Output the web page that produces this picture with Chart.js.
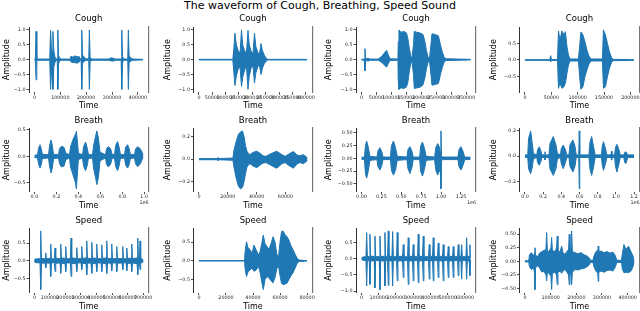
<!DOCTYPE html>
<html><head><meta charset="utf-8">
<script src="https://cdn.jsdelivr.net/npm/chart.js@4.4.1/dist/chart.umd.min.js"></script>
<style>
html,body{margin:0;padding:0;background:#fff;width:640px;height:311px;overflow:hidden;position:relative}
canvas{position:absolute}
#title{position:absolute;left:0;top:-1px;width:640px;text-align:center;font-family:'DejaVu Sans',sans-serif;font-size:11px;line-height:13px;color:#000;white-space:nowrap}
</style></head><body>
<div id="title">The waveform of Cough, Breathing, Speed Sound</div>
<script>
// ---------------- data ----------------
const rowTitles = ['Cough', 'Breath', 'Speed'];

const cough1Time = [0,3500,6200,9300,59200,62300,66100,69200,71500,75000,79700,85500,88200,90500,93200,97100,102900,138800,141500,149300,157000,164700,172500,177500,180600,182900,186000,191800,197600,210000,212300,215400,222700,288500,294300,303900,311700,335300,337600,340700,346500,360800,363100,366200,373500,381300,420000];
const cough1Max = [0.01,0.01,0.95,0.02,0.02,1.0,0.4,0.25,0.95,0.3,0.08,0.02,0.02,1.0,0.15,0.05,0.02,0.02,0.12,0.08,0.13,0.09,0.11,0.03,0.02,1.0,0.15,0.1,0.03,0.02,1.0,0.06,0.02,0.02,0.06,0.05,0.02,0.02,1.0,0.1,0.02,0.02,1.0,0.12,0.05,0.02,0.01];
const cough1Min = [-0.01,-0.01,-0.68,-0.02,-0.02,-1.0,-0.45,-0.3,-1.0,-0.25,-0.08,-0.02,-0.02,-1.0,-0.15,-0.04,-0.02,-0.02,-0.08,-0.1,-0.1,-0.12,-0.08,-0.03,-0.02,-1.0,-0.12,-0.06,-0.03,-0.02,-1.0,-0.05,-0.02,-0.02,-0.04,-0.05,-0.02,-0.02,-1.0,-0.08,-0.02,-0.02,-1.0,-0.1,-0.04,-0.02,-0.01];

const cough2Time = [0,127000,131000,135100,140000,147000,154000,159500,164000,171000,178000,183800,188500,195000,202500,208100,213000,220000,226500,232400,238000,245000,252000,258000,405000];
const cough2Max = [0.01,0.01,0.4,0.89,0.5,0.3,0.22,1.0,0.5,0.3,0.22,0.98,0.5,0.3,0.2,0.89,0.45,0.25,0.17,0.54,0.3,0.15,0.05,0.01,0.01];
const cough2Min = [-0.01,-0.01,-0.45,-0.87,-0.55,-0.32,-0.25,-0.9,-0.6,-0.35,-0.22,-1.0,-0.55,-0.3,-0.2,-0.79,-0.45,-0.25,-0.17,-0.5,-0.28,-0.13,-0.05,-0.01,-0.01];

const cough3Time = [0,9400,11700,14000,17400,21700,28400,55200,56200,68600,78600,84300,90300,95400,122100,123100,125500,132200,142200,150600,155600,160600,165600,169000,174000,176700,185700,195700,205800,212500,217500,222500,227500,232500,235900,245900,257600,264300,271000,276000,282700,365000];
const cough3Max = [0.01,0.02,0.37,0.03,0.03,0.05,0.02,0.02,0.02,0.12,0.25,0.31,0.15,0.03,0.02,0.6,1.0,0.92,0.95,0.9,0.7,0.35,0.12,0.04,0.5,0.95,0.92,0.9,0.85,0.6,0.3,0.1,0.04,0.5,0.87,0.85,0.8,0.5,0.25,0.1,0.03,0.01];
const cough3Min = [-0.01,-0.02,-0.38,-0.03,-0.03,-0.05,-0.02,-0.02,-0.02,-0.1,-0.2,-0.25,-0.12,-0.03,-0.02,-0.7,-1.0,-0.95,-0.97,-0.92,-0.75,-0.35,-0.12,-0.04,-0.5,-0.97,-0.95,-0.93,-0.85,-0.6,-0.3,-0.1,-0.04,-0.5,-0.86,-0.84,-0.8,-0.5,-0.25,-0.1,-0.03,-0.01];

const cough4Time = [0,47000,48800,50500,61700,63600,66400,70200,74000,76800,79700,82500,85400,101500,104300,106200,110000,113800,117600,121400,125200,147000,148900,152700,156500,160300,164100,166900,207000];
const cough4Max = [0.01,0.01,0.13,0.01,0.02,0.87,0.6,0.87,0.75,0.85,0.4,0.15,0.03,0.03,0.5,0.84,0.75,0.55,0.3,0.12,0.03,0.03,0.9,0.75,0.5,0.25,0.08,0.02,0.01];
const cough4Min = [-0.01,-0.01,-0.06,-0.01,-0.02,-0.85,-0.7,-0.85,-0.8,-0.7,-0.4,-0.15,-0.03,-0.03,-0.6,-0.88,-0.8,-0.5,-0.3,-0.12,-0.03,-0.03,-0.85,-0.8,-0.5,-0.25,-0.08,-0.02,-0.01];

const breath1Time = [0,28300,37400,51000,62900,72000,128500,137600,151300,163200,174100,219700,228800,247000,269800,286200,320000,329100,351900,374700,382000,391100,400200,438500,447600,465800,482200,491400,529600,538800,557000,568800,582500,598000,648200,657300,673700,693700,707400,730200,739300,757500,771200,783100,821400,830500,848700,862400,874300,912500,921600,939900,962700,980900,990000];
const breath1Max = [0.02,0.03,0.15,0.22,0.14,0.04,0.03,0.2,0.31,0.2,0.04,0.03,0.15,0.19,0.17,0.06,0.03,0.18,0.32,0.42,0.47,0.3,0.06,0.03,0.18,0.27,0.15,0.04,0.03,0.2,0.38,0.48,0.35,0.08,0.03,0.15,0.18,0.15,0.04,0.03,0.2,0.28,0.18,0.04,0.03,0.17,0.22,0.15,0.04,0.03,0.14,0.18,0.15,0.08,0.02];
const breath1Min = [-0.02,-0.03,-0.14,-0.22,-0.15,-0.04,-0.03,-0.18,-0.31,-0.22,-0.04,-0.03,-0.14,-0.2,-0.18,-0.06,-0.03,-0.2,-0.35,-0.5,-0.61,-0.35,-0.06,-0.03,-0.18,-0.27,-0.16,-0.04,-0.03,-0.22,-0.4,-0.53,-0.4,-0.08,-0.03,-0.15,-0.2,-0.15,-0.04,-0.03,-0.18,-0.27,-0.18,-0.04,-0.03,-0.16,-0.22,-0.16,-0.04,-0.03,-0.14,-0.19,-0.15,-0.06,-0.02];

const breath2Time = [0,12500,13200,13900,23600,24300,25700,27400,28800,30200,31300,32300,33300,34400,35400,37500,40100,42700,44400,46500,49300,53900,57600,59700,61700,65400,68300,70100,72300,74600,75000];
const breath2Max = [0.005,0.005,0.015,0.005,0.01,0.08,0.15,0.22,0.24,0.25,0.2,0.12,0.07,0.05,0.04,0.06,0.07,0.05,0.03,0.025,0.045,0.07,0.04,0.025,0.04,0.068,0.035,0.03,0.04,0.02,0.005];
const breath2Min = [-0.005,-0.005,-0.015,-0.005,-0.01,-0.07,-0.16,-0.24,-0.262,-0.25,-0.2,-0.13,-0.07,-0.05,-0.04,-0.06,-0.075,-0.05,-0.035,-0.03,-0.05,-0.08,-0.04,-0.03,-0.05,-0.08,-0.04,-0.03,-0.04,-0.02,-0.005];

const breath3Time = [0,37700,50200,65300,85400,106700,194600,207200,232300,257400,270000,364200,376700,401800,426900,449500,571300,583900,609000,634100,650500,730800,743400,766000,791100,812400,919200,931700,956900,979400,992000,998300,1005800,1017100,1211800,1224300,1249400,1274500,1297100,1370000];
const breath3Max = [0.02,0.025,0.25,0.34,0.22,0.04,0.025,0.15,0.21,0.12,0.025,0.025,0.25,0.34,0.22,0.04,0.025,0.17,0.23,0.14,0.025,0.025,0.24,0.32,0.2,0.04,0.025,0.2,0.29,0.22,0.1,0.54,0.05,0.025,0.025,0.17,0.23,0.14,0.025,0.02];
const breath3Min = [-0.02,-0.025,-0.3,-0.39,-0.25,-0.04,-0.025,-0.16,-0.23,-0.13,-0.025,-0.025,-0.24,-0.33,-0.24,-0.04,-0.025,-0.2,-0.3,-0.18,-0.025,-0.025,-0.25,-0.35,-0.22,-0.04,-0.025,-0.22,-0.33,-0.25,-0.1,-0.6,-0.05,-0.025,-0.025,-0.16,-0.23,-0.14,-0.025,-0.02];

const breath4Time = [0,30800,39600,62700,80300,93500,129800,138600,157300,176000,187000,214500,220000,225500,264000,275000,311300,341000,357500,390500,399300,421300,445500,459800,484000,495000,528000,550000,564300,591800,597300,602800,704000,715000,733700,753500,772200,841500,850300,863500,885500,902000,946000,951500,957000,986700,995500,1012000,1034000,1048300,1086800,1097800,1111000,1130800,1200000];
const breath4Max = [0.01,0.01,0.14,0.2,0.1,0.02,0.01,0.05,0.075,0.04,0.01,0.01,0.035,0.01,0.01,0.1,0.155,0.09,0.02,0.01,0.06,0.088,0.05,0.01,0.01,0.09,0.128,0.08,0.01,0.01,0.2,0.01,0.01,0.11,0.155,0.08,0.01,0.01,0.08,0.115,0.06,0.01,0.01,0.04,0.01,0.01,0.07,0.093,0.05,0.01,0.01,0.03,0.035,0.01,0.01];
const breath4Min = [-0.01,-0.01,-0.1,-0.139,-0.09,-0.02,-0.01,-0.05,-0.072,-0.04,-0.01,-0.01,-0.03,-0.01,-0.01,-0.1,-0.152,-0.1,-0.02,-0.01,-0.06,-0.099,-0.05,-0.01,-0.01,-0.08,-0.125,-0.08,-0.01,-0.01,-0.258,-0.01,-0.01,-0.1,-0.152,-0.09,-0.01,-0.01,-0.07,-0.112,-0.06,-0.01,-0.01,-0.03,-0.01,-0.01,-0.08,-0.125,-0.06,-0.01,-0.01,-0.05,-0.058,-0.01,-0.01];

const speed1Time = [0,3900,36100,40600,45100,68300,72800,77400,100600,105100,109600,128300,132800,137300,165000,169500,174000,197200,201800,206300,231400,235900,240400,268200,272700,277200,300400,304900,309400,332600,337100,341600,364800,369400,373900,397100,401600,406100,429300,433800,438300,461500,466000,470600,493800,498300,502800,526000,530500,535000,564700,569200,573700,590500,595000,599500,622700,627200,631700,661400,665900,670400,676900,680700,684600,696800,700000];
const speed1Max = [0.01,0.05,0.06,0.84,0.07,0.06,0.22,0.06,0.07,0.47,0.06,0.05,0.36,0.07,0.06,0.47,0.08,0.07,0.4,0.06,0.06,0.64,0.08,0.07,0.37,0.06,0.06,0.4,0.07,0.08,0.56,0.07,0.06,0.52,0.08,0.07,0.47,0.06,0.06,0.45,0.07,0.08,0.56,0.06,0.07,0.47,0.06,0.06,0.4,0.07,0.06,0.4,0.05,0.06,0.36,0.07,0.07,0.47,0.06,0.08,0.64,0.07,0.07,0.56,0.06,0.05,0.01];
const speed1Min = [-0.01,-0.05,-0.06,-0.81,-0.07,-0.06,-0.2,-0.06,-0.07,-0.44,-0.06,-0.05,-0.3,-0.07,-0.06,-0.35,-0.08,-0.07,-0.3,-0.06,-0.06,-0.44,-0.08,-0.07,-0.3,-0.06,-0.06,-0.25,-0.07,-0.08,-0.39,-0.07,-0.06,-0.35,-0.08,-0.07,-0.3,-0.06,-0.06,-0.3,-0.07,-0.08,-0.35,-0.06,-0.07,-0.28,-0.06,-0.06,-0.3,-0.07,-0.06,-0.25,-0.05,-0.06,-0.28,-0.07,-0.07,-0.3,-0.06,-0.08,-0.39,-0.07,-0.07,-0.25,-0.06,-0.05,-0.01];

const speed2Time = [0,33700,34300,35200,36300,37800,39300,40700,42200,44100,45200,46700,47600,48900,50400,51800,53700,54800,56300,57700,58900,60000,61100,62200,63700,65100,66600,68100,69600,71100,72500,74000,80000];
const speed2Max = [0.005,0.005,0.3,0.51,0.35,0.3,0.2,0.42,0.3,0.15,0.25,0.5,0.69,0.45,0.38,0.3,0.5,0.645,0.5,0.16,0.12,0.5,0.78,0.8,0.7,0.65,0.55,0.4,0.3,0.18,0.08,0.02,0.005];
const speed2Min = [-0.005,-0.005,-0.25,-0.42,-0.3,-0.24,-0.2,-0.28,-0.25,-0.15,-0.3,-0.6,-0.77,-0.5,-0.42,-0.46,-0.55,-0.59,-0.45,-0.2,-0.15,-0.4,-0.6,-0.64,-0.62,-0.6,-0.5,-0.4,-0.32,-0.2,-0.08,-0.02,-0.005];

const speed3Time = [0,8700,26100,30200,34200,45300,49300,53400,74300,78300,82400,103300,107300,111400,132300,136300,140400,151400,155500,159600,177000,181000,185100,203700,207700,211800,238500,242500,246600,267500,271500,275600,296500,300500,304600,325500,329600,333600,354500,358600,362600,389300,393400,397400,412500,416600,420600,441500,445600,449600,470500,474600,478700,499600,503600,507700,528600,532600,536700,557600,561600,565700,577300,581400,585400,606300,610300,614400,625400,629500,632300,633000];
const speed3Max = [0.02,0.05,0.06,0.8,0.07,0.06,0.75,0.07,0.07,0.69,0.06,0.06,0.69,0.07,0.07,0.8,0.06,0.06,0.85,0.07,0.07,0.83,0.06,0.06,0.8,0.07,0.07,0.43,0.06,0.06,0.64,0.07,0.07,0.43,0.06,0.06,0.75,0.07,0.07,0.69,0.06,0.06,0.43,0.07,0.07,0.64,0.06,0.06,0.48,0.07,0.07,0.43,0.06,0.06,0.37,0.07,0.07,0.37,0.06,0.06,0.43,0.07,0.07,0.43,0.06,0.06,0.64,0.07,0.07,0.43,0.03,0.02];
const speed3Min = [-0.02,-0.05,-0.06,-0.84,-0.07,-0.06,-0.79,-0.07,-0.07,-0.9,-0.06,-0.06,-0.95,-0.07,-0.07,-0.84,-0.06,-0.06,-0.82,-0.07,-0.07,-0.84,-0.06,-0.06,-0.68,-0.07,-0.07,-0.58,-0.06,-0.06,-0.79,-0.07,-0.07,-0.68,-0.06,-0.06,-0.74,-0.07,-0.07,-0.68,-0.06,-0.06,-0.63,-0.07,-0.07,-0.68,-0.06,-0.06,-0.58,-0.07,-0.07,-0.68,-0.06,-0.06,-0.58,-0.07,-0.07,-0.58,-0.06,-0.06,-0.52,-0.07,-0.07,-0.63,-0.06,-0.06,-0.63,-0.07,-0.07,-0.52,-0.03,-0.02];

const speed4Time = [0,14800,17500,25300,33100,37000,39000,41300,48700,56500,66200,74000,81800,84500,87300,93500,101300,104000,106800,116900,123100,125800,128600,136400,143000,148000,155800,163600,169800,172600,175300,179200,181900,184700,194800,206500,218200,229900,241600,251300,255200,264900,268800,276600,283600,285600,287500,296100,307800,319500,331200,342800,352600,357600,375900,379800,385700,393500,403200,413000,420800,425000];
const speed4Max = [0.01,0.01,0.12,0.16,0.1,0.15,0.25,0.12,0.08,0.15,0.18,0.2,0.22,0.53,0.2,0.18,0.25,0.44,0.2,0.18,0.25,0.465,0.2,0.17,0.28,0.16,0.13,0.18,0.22,0.5,0.2,0.25,0.56,0.18,0.16,0.14,0.16,0.12,0.1,0.06,0.02,0.02,0.1,0.18,0.2,0.28,0.18,0.19,0.16,0.18,0.15,0.17,0.1,0.02,0.02,0.15,0.31,0.22,0.28,0.18,0.1,0.01];
const speed4Min = [-0.01,-0.01,-0.1,-0.15,-0.12,-0.2,-0.52,-0.12,-0.08,-0.12,-0.2,-0.18,-0.25,-0.36,-0.2,-0.22,-0.28,-0.52,-0.22,-0.2,-0.25,-0.43,-0.2,-0.18,-0.22,-0.18,-0.15,-0.2,-0.25,-0.43,-0.22,-0.25,-0.43,-0.2,-0.15,-0.16,-0.14,-0.13,-0.1,-0.06,-0.02,-0.02,-0.1,-0.18,-0.22,-0.37,-0.2,-0.18,-0.2,-0.17,-0.16,-0.18,-0.1,-0.02,-0.02,-0.15,-0.21,-0.2,-0.21,-0.18,-0.1,-0.01];

// tick values and labels
const cough1XTicks = [0,100000,200000,300000,400000];
const cough1XLabels = ['0','100000','200000','300000','400000'];
const cough2XTicks = [0,50000,100000,150000,200000,250000,300000,350000,400000];
const cough2XLabels = ['0','50000','100000','150000','200000','250000','300000','350000','400000'];
const cough3XTicks = [0,50000,100000,150000,200000,250000,300000,350000];
const cough3XLabels = ['0','50000','100000','150000','200000','250000','300000','350000'];
const cough4XTicks = [0,50000,100000,150000,200000];
const cough4XLabels = ['0','50000','100000','150000','200000'];
const breath1XTicks = [0,200000,400000,600000,800000,1000000];
const breath1XLabels = ['0.0','0.2','0.4','0.6','0.8','1.0'];
const breath2XTicks = [0,20000,40000,60000];
const breath2XLabels = ['0','20000','40000','60000'];
const breath3XTicks = [0,250000,500000,750000,1000000,1250000];
const breath3XLabels = ['0.00','0.25','0.50','0.75','1.00','1.25'];
const breath4XTicks = [0,200000,400000,600000,800000,1000000,1200000];
const breath4XLabels = ['0.0','0.2','0.4','0.6','0.8','1.0','1.2'];
const speed1XTicks = [0,100000,200000,300000,400000,500000,600000,700000];
const speed1XLabels = ['0','100000','200000','300000','400000','500000','600000','700000'];
const speed2XTicks = [0,20000,40000,60000,80000];
const speed2XLabels = ['0','20000','40000','60000','80000'];
const speed3XTicks = [0,100000,200000,300000,400000,500000,600000];
const speed3XLabels = ['0','100000','200000','300000','400000','500000','600000'];
const speed4XTicks = [0,100000,200000,300000,400000];
const speed4XLabels = ['0','100000','200000','300000','400000'];

const yTicks10 = [-1,-0.5,0,0.5,1];
const yLabels10 = ['\u22121.0','\u22120.5','0.0','0.5','1.0'];
const yTicks05 = [-0.5,0,0.5];
const yLabels05 = ['\u22120.5','0.0','0.5'];
const yTicks02 = [-0.2,0,0.2];
const yLabels02 = ['\u22120.2','0.0','0.2'];
const yTicks025 = [-0.5,-0.25,0,0.25,0.5];
const yLabels025 = ['\u22120.50','\u22120.25','0.00','0.25','0.50'];
const yTicksSpeed3 = [-1,-0.5,0,0.5];
const yLabelsSpeed3 = ['\u22121.0','\u22120.5','0.0','0.5'];

const xAxisTitle = 'Time';
const yAxisTitle = 'Amplitude';
const offsetLabel = '1e6';

// ---------------- layout / style ----------------
const C0 = '#1f77b4';
const colLeft = [29, 193.5, 356, 519.5];
const colRight = [148.5, 312.5, 476, 639.5];
const ampX = [7, 167.5, 329, 494];
const rowTop = [27, 128, 228];
const rowBottom = [92.3, 191.7, 292.5];
const titleMidY = [18.7, 121, 221.2];
const TITLE_SIZE = 8.5, AXIS_SIZE = 8, TICK_SIZE = 4.8;

const panels = [
  {row:0,col:0,t:cough1Time,hi:cough1Max,lo:cough1Min,xt:cough1XTicks,xl:cough1XLabels,yt:yTicks10,yl:yLabels10},
  {row:0,col:1,t:cough2Time,hi:cough2Max,lo:cough2Min,xt:cough2XTicks,xl:cough2XLabels,yt:yTicks10,yl:yLabels10},
  {row:0,col:2,t:cough3Time,hi:cough3Max,lo:cough3Min,xt:cough3XTicks,xl:cough3XLabels,yt:yTicks10,yl:yLabels10},
  {row:0,col:3,t:cough4Time,hi:cough4Max,lo:cough4Min,xt:cough4XTicks,xl:cough4XLabels,yt:yTicks05,yl:yLabels05},
  {row:1,col:0,t:breath1Time,hi:breath1Max,lo:breath1Min,xt:breath1XTicks,xl:breath1XLabels,yt:yTicks05,yl:yLabels05,off:offsetLabel},
  {row:1,col:1,t:breath2Time,hi:breath2Max,lo:breath2Min,xt:breath2XTicks,xl:breath2XLabels,yt:yTicks02,yl:yLabels02},
  {row:1,col:2,t:breath3Time,hi:breath3Max,lo:breath3Min,xt:breath3XTicks,xl:breath3XLabels,yt:yTicks025,yl:yLabels025,off:offsetLabel},
  {row:1,col:3,t:breath4Time,hi:breath4Max,lo:breath4Min,xt:breath4XTicks,xl:breath4XLabels,yt:yTicks02,yl:yLabels02,off:offsetLabel},
  {row:2,col:0,t:speed1Time,hi:speed1Max,lo:speed1Min,xt:speed1XTicks,xl:speed1XLabels,yt:yTicks05,yl:yLabels05},
  {row:2,col:1,t:speed2Time,hi:speed2Max,lo:speed2Min,xt:speed2XTicks,xl:speed2XLabels,yt:yTicks05,yl:yLabels05},
  {row:2,col:2,t:speed3Time,hi:speed3Max,lo:speed3Min,xt:speed3XTicks,xl:speed3XLabels,yt:yTicksSpeed3,yl:yLabelsSpeed3},
  {row:2,col:3,t:speed4Time,hi:speed4Max,lo:speed4Min,xt:speed4XTicks,xl:speed4XLabels,yt:yTicks025,yl:yLabels025}
];

Chart.defaults.font.family = "'DejaVu Sans', sans-serif";
Chart.defaults.color = '#000';

function buildPanel(p) {
  const r = p.row, c = p.col;
  const L = colLeft[c], R = colRight[c], T = rowTop[r], B = rowBottom[r];
  const lhT = TITLE_SIZE * 1.2, lhA = AXIS_SIZE * 1.2;
  const cx = Math.floor(ampX[c] - lhA / 2 - 1);
  const cy = Math.floor(titleMidY[r] - lhT / 2 - 1);
  const yW = L - cx;
  const ampPad = ampX[c] - cx - lhA / 2;
  const tPadTop = titleMidY[r] - cy - lhT / 2;
  const tPadBottom = T - titleMidY[r] - lhT / 2;
  const xH = 20;
  const W = Math.ceil(R - cx + 14);
  const H = Math.ceil(B + xH - cy + 1);
  const padRight = W - (R - cx);
  const padBottom = H - (B + xH - cy);

  const cv = document.createElement('canvas');
  cv.width = W; cv.height = H;
  cv.style.left = cx + 'px'; cv.style.top = cy + 'px';
  cv.style.width = W + 'px'; cv.style.height = H + 'px';
  document.body.appendChild(cv);

  const tMin = p.t[0], tMax = p.t[p.t.length - 1];
  const xm = 0.05 * (tMax - tMin);
  const yMax = Math.max(...p.hi), yMin = Math.min(...p.lo);
  const ym = 0.05 * (yMax - yMin);

  const tickGrid = {display: true, drawOnChartArea: false, drawTicks: true, tickLength: 2.5, tickColor: '#222', tickWidth: 0.8};

  const offsetPlugin = {
    id: 'offsetText',
    afterDraw(chart) {
      if (!p.off) return;
      const {ctx, chartArea} = chart;
      ctx.save();
      ctx.font = TICK_SIZE + "px 'DejaVu Sans'";
      ctx.fillStyle = '#222';
      ctx.textAlign = 'right';
      ctx.textBaseline = 'middle';
      ctx.fillText(p.off, chartArea.right, chartArea.bottom + 11);
      ctx.restore();
    }
  };

  new Chart(cv, {
    type: 'line',
    data: {
      datasets: [
        {data: p.t.map((x, i) => ({x: x, y: p.hi[i]})), borderColor: C0, backgroundColor: C0, borderWidth: 1, pointRadius: 0, fill: '+1', tension: 0},
        {data: p.t.map((x, i) => ({x: x, y: p.lo[i]})), borderColor: C0, backgroundColor: C0, borderWidth: 1, pointRadius: 0, fill: false, tension: 0}
      ]
    },
    options: {
      responsive: false, animation: false, devicePixelRatio: 1, events: [],
      layout: {padding: {left: 0, top: 0, right: padRight, bottom: padBottom}},
      plugins: {
        legend: {display: false}, tooltip: {enabled: false},
        title: {display: true, text: rowTitles[r], fullSize: false, color: '#000',
          font: {size: TITLE_SIZE, weight: 'normal'}, padding: {top: tPadTop, bottom: tPadBottom}}
      },
      scales: {
        x: {
          type: 'linear', position: 'bottom', min: tMin - xm, max: tMax + xm,
          afterBuildTicks: s => { s.ticks = p.xt.map(v => ({value: v})); },
          afterFit: s => { s.height = xH; },
          ticks: {callback: (v, i) => p.xl[i], autoSkip: false, maxRotation: 0, minRotation: 0, padding: 0, color: '#222', font: {size: TICK_SIZE}},
          grid: tickGrid, border: {display: false},
          title: {display: true, text: xAxisTitle, color: '#000', font: {size: AXIS_SIZE}, padding: {top: 0, bottom: 1.2}}
        },
        y: {
          type: 'linear', position: 'left', min: yMin - ym, max: yMax + ym,
          afterBuildTicks: s => { s.ticks = p.yt.map(v => ({value: v})); },
          afterFit: s => { s.width = yW; },
          ticks: {callback: (v, i) => p.yl[i], autoSkip: false, padding: 1, color: '#222', font: {size: TICK_SIZE}},
          grid: tickGrid, border: {display: true, color: '#333', width: 1},
          title: {display: true, text: yAxisTitle, color: '#000', font: {size: AXIS_SIZE}, padding: {top: ampPad, bottom: 0}}
        },
        yr: {
          type: 'linear', position: 'right', min: yMin - ym, max: yMax + ym,
          afterFit: s => { s.width = 0; },
          ticks: {display: false}, grid: {display: false, drawTicks: false},
          border: {display: true, color: '#777', width: 1.2}
        }
      }
    },
    plugins: [offsetPlugin]
  });
}

panels.forEach(buildPanel);
</script>
</body></html>
